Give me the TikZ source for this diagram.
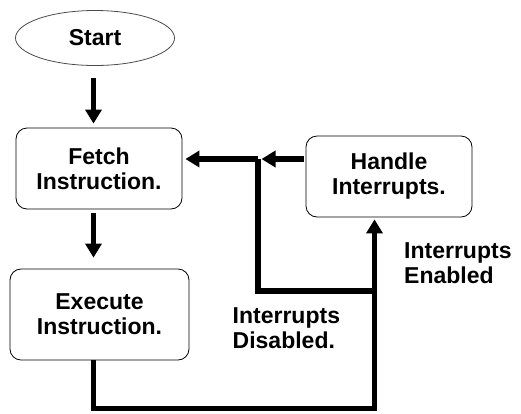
\documentclass[tikz,border=0pt]{standalone}
\usepackage{fontspec}
\setmainfont{Liberation Sans}
\usetikzlibrary{shapes.geometric,arrows.meta,calc}
\begin{document}
\begin{tikzpicture}[x=1pt,y=-1pt,
  txt/.style={font=\fontsize{23}{25}\selectfont\bfseries},
  box/.style={txt, draw, line width=0.8pt, rounded corners=11pt, align=center, inner sep=0pt},
  conn/.style={line width=5.5pt, line join=miter, -{Triangle[length=14pt,width=16pt]}},
  plain/.style={line width=5.5pt, line join=miter},
  lbl/.style={txt, align=left, anchor=north west, inner sep=0pt}]
\path[use as bounding box] (0,0) rectangle (521,413);
\node[ellipse, draw=black!70, line width=0.8pt, minimum width=159pt, minimum height=55pt, txt] (start) at (95,38) {Start};
\node[box, minimum width=166pt, minimum height=81pt] (fetch) at (99,168.5) {Fetch\\Instruction.};
\node[box, minimum width=179pt, minimum height=91pt] (execute) at (99.5,314.5) {Execute\\Instruction.};
\node[box, minimum width=166pt, minimum height=81pt] (handle) at (389,176.5) {Handle\\Interrupts.};
\node[lbl] (enabled) at (404,242) {Interrupts\\Enabled};
\node[lbl] (disabled) at (232.5,307) {Interrupts\\Disabled.};
\coordinate (j) at (258,159);
\coordinate (d) at (258,291);
\coordinate (e) at (374.5,291);
\coordinate (b1) at (93.5,408.5);
\coordinate (b2) at (374.5,408.5);
\draw[conn, shorten <=12.5pt, shorten >=4pt] (b1 |- start.south) -- (b1 |- fetch.north);
\draw[conn, shorten <=4pt, shorten >=11pt] (b1 |- fetch.south) -- (b1 |- execute.north);
\draw[conn, shorten <=2pt, shorten >=3.5pt] (handle.west |- j) -- (j);
\draw[conn, shorten >=3pt] (j) -- (fetch.east |- j);
\draw[plain] (j) -- (d) -- (e);
\draw[conn, shorten >=2pt] (b1 |- execute.south) -- (b1) -- (b2) -- (handle.south -| b2);
\end{tikzpicture}
\end{document}
